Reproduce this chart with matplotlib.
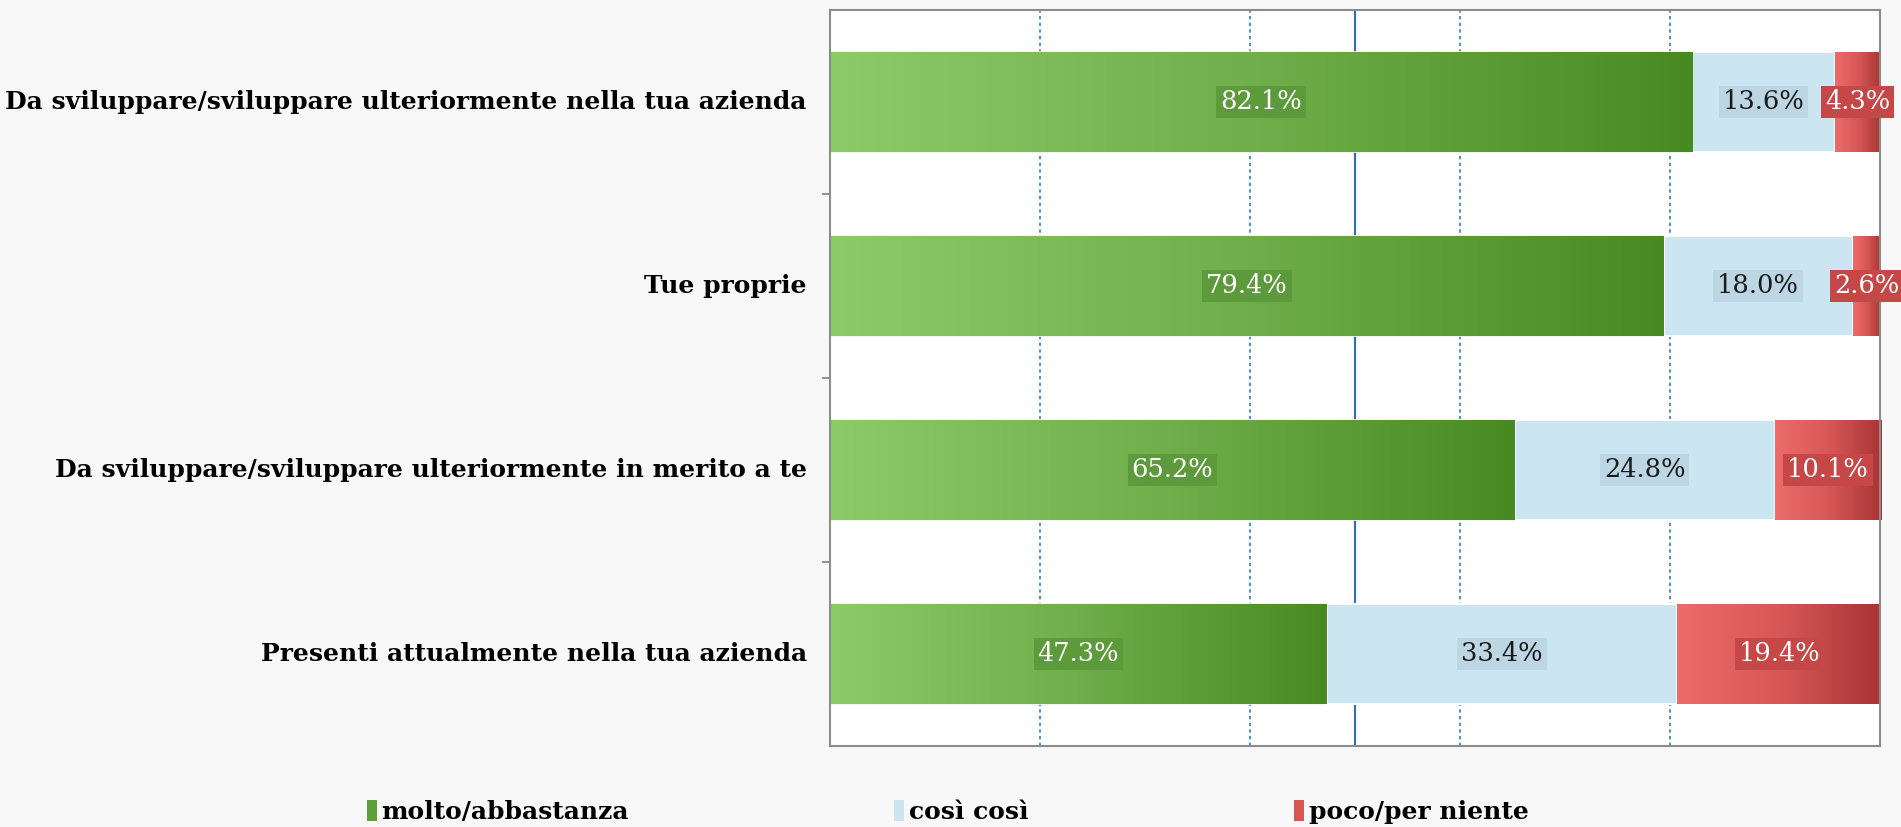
import numpy as np
import matplotlib
matplotlib.use("Agg")
import matplotlib.pyplot as plt
from matplotlib.colors import LinearSegmentedColormap
from matplotlib.patches import Patch

# data
categories = [
    "Da sviluppare/sviluppare ulteriormente nella tua azienda",
    "Tue proprie",
    "Da sviluppare/sviluppare ulteriormente in merito a te",
    "Presenti attualmente nella tua azienda",
]
molto = [82.1, 79.4, 65.2, 47.3]
cosi = [13.6, 18.0, 24.8, 33.4]
poco = [4.3, 2.6, 10.1, 19.4]
series_names = ["molto/abbastanza", "così così", "poco/per niente"]

green_cmap = LinearSegmentedColormap.from_list("g", ["#8dca68", "#6fae4a", "#478a22"])
red_cmap = LinearSegmentedColormap.from_list("r", ["#ec6b6b", "#d85858", "#a83434"])
blue_col = "#cbe5f1"

fig = plt.figure(figsize=(19.01, 8.27), dpi=100, facecolor="#f8f8f8")
ax = fig.add_axes([0.4366, 0.098, 0.5524, 0.890])
ax.set_facecolor("white")

y = np.arange(len(categories))
h = 0.54
left2 = np.array(molto)
left3 = left2 + np.array(cosi)

bars_g = ax.barh(y, molto, height=h, color="#6fae4a", edgecolor="#eef7e6", linewidth=1.2, zorder=2)
bars_b = ax.barh(y, cosi, left=left2, height=h, color=blue_col, edgecolor="white", linewidth=1.5, zorder=2)
bars_r = ax.barh(y, poco, left=left3, height=h, color="#d85858", edgecolor="white", linewidth=1.2, zorder=2)

# horizontal gradients inside the green and red bars
grad = np.linspace(0, 1, 256).reshape(1, -1)
for bars, cmap in [(bars_g, green_cmap), (bars_r, red_cmap)]:
    for p in bars:
        x0, y0 = p.get_x(), p.get_y()
        x1, y1 = x0 + p.get_width(), y0 + p.get_height()
        im = ax.imshow(grad, cmap=cmap, extent=[x0, x1, y1, y0], aspect="auto", zorder=2.5)
        im.set_clip_path(p)

# value labels
for vals, lefts, col, box in [
    (molto, np.zeros(4), "white", "#5c9a3b"),
    (cosi, left2, "#1a1a1a", "#bcd6e3"),
    (poco, left3, "white", "#c64747"),
]:
    for i, v in enumerate(vals):
        ax.text(lefts[i] + v / 2, y[i], f"{v:.1f}%", ha="center", va="center",
                color=col, fontsize=18.5, family="DejaVu Serif", zorder=4,
                bbox=dict(boxstyle="square,pad=0.15", facecolor=box, edgecolor="none"))

ax.set_xlim(0, 100)
ax.set_ylim(3.5, -0.5)

# gridlines
for gx in [20, 40, 60, 80]:
    ax.axvline(gx, color="#2a7fd4", linestyle=(0, (2, 2)), linewidth=1.2, zorder=1)
ax.axvline(50, color="#2a6fb8", linewidth=1.5, zorder=1)

ax.set_xticks([])
ax.set_yticks([0.5, 1.5, 2.5])
ax.set_yticklabels([])
ax.tick_params(axis="y", length=6, width=1.2, color="#7f7f7f", direction="out")
for i, c in enumerate(categories):
    ax.text(-0.022, y[i], c, transform=ax.get_yaxis_transform(), ha="right", va="center",
            fontsize=18, fontweight="bold", family="DejaVu Serif", color="black")

for s in ax.spines.values():
    s.set_color("#8c8c8c")
    s.set_linewidth(1.5)

handles = [Patch(facecolor="#5f9f3a"), Patch(facecolor=blue_col), Patch(facecolor="#d65555")]
fig.legend(handles, series_names, loc="center left", bbox_to_anchor=(0.181, 0.018), ncol=3,
           frameon=False, handlelength=0.4, handleheight=0.9, handletextpad=0.2,
           columnspacing=10.6, prop={"family": "DejaVu Serif", "weight": "bold", "size": 18})

fig.savefig("out.png", dpi=100, facecolor=fig.get_facecolor())
